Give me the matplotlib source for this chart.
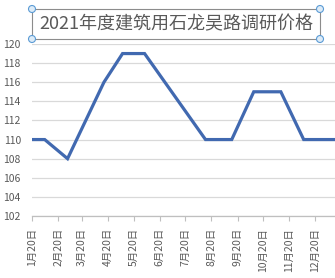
import pandas as pd
import matplotlib.pyplot as plt
from matplotlib.patches import Rectangle, Circle

plt.rcParams['font.family'] = ['Noto Sans CJK SC', 'DejaVu Sans']

# survey dates and prices
dates = ['2021-01-20', '2021-02-04', '2021-03-03', '2021-04-15', '2021-05-07', '2021-06-02',
         '2021-08-13', '2021-09-13', '2021-10-09', '2021-11-10', '2021-12-07', '2022-01-20']
prices = [110, 110, 108, 116, 119, 119, 110, 110, 115, 115, 110, 110]

tick_dates = ['2021-%02d-20' % m for m in range(1, 13)]
tick_labels = ['%d月20日' % m for m in range(1, 13)]

W, H = 335, 278
fig = plt.figure(figsize=(W / 100, H / 100), dpi=100)
ax = fig.add_axes([32 / W, (H - 216) / H, (W - 32) / W, (216 - 44) / H])

x = pd.to_datetime(dates)
ax.plot(x, prices, color='#4169B0', lw=2.3, solid_joinstyle='miter')

ax.set_ylim(102, 120)
ax.set_yticks(range(102, 121, 2))
ax.set_xlim(pd.Timestamp('2021-01-20'), pd.Timestamp('2022-01-13'))
ax.set_xticks(pd.to_datetime(tick_dates))
ax.set_xticklabels(tick_labels, rotation=90)

ax.grid(axis='y', color='#D9D9D9', lw=0.9)
ax.set_axisbelow(True)
for s in ['left', 'right', 'top']:
    ax.spines[s].set_visible(False)
ax.spines['bottom'].set_color('#BFBFBF')
ax.spines['bottom'].set_linewidth(0.9)
ax.tick_params(axis='y', length=0, pad=8, labelsize=7.5, labelcolor='#595959')
ax.tick_params(axis='x', length=3.5, width=0.8, color='#BFBFBF', pad=5,
               labelsize=7.5, labelcolor='#595959')

# title box with selection handles
fig.patches.append(Rectangle((32 / W, (H - 39) / H), 288 / W, 30 / H,
                             transform=fig.transFigure, fill=False,
                             ec='#8C8C8C', lw=0.8))
for cx, cy in [(32, 9), (320, 9), (32, 39), (320, 39)]:
    fig.patches.append(Circle((cx, H - cy), 3.5, transform=None,
                              fc='#DCEBF7', ec='#5B9BD5', lw=0.8, zorder=5))
fig.text(176 / W, (H - 24) / H, '2021年度建筑用石龙吴路调研价格',
         ha='center', va='center', fontsize=13, color='#595959')

fig.savefig('out.png', dpi=100)
